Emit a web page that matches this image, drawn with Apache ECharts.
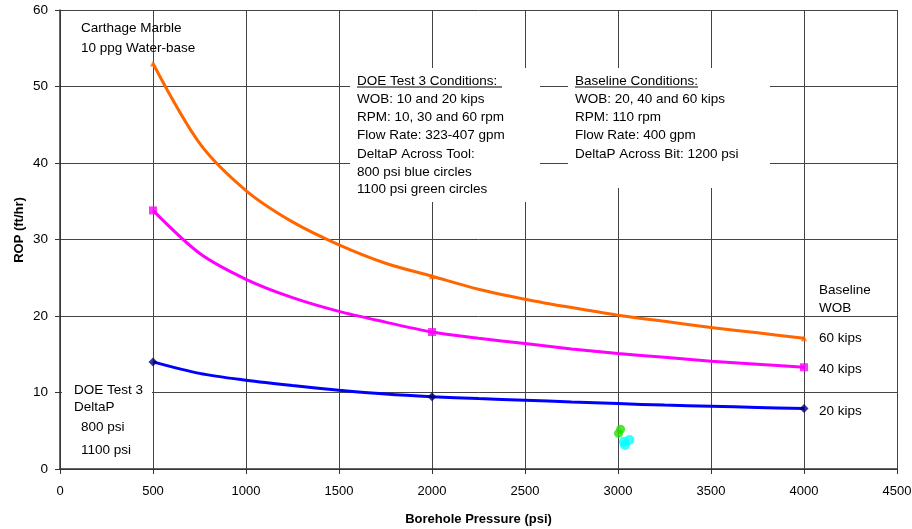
<!DOCTYPE html>
<html style="height: 100%">
<head>
    <meta charset="utf-8">
    <script src="https://cdn.jsdelivr.net/npm/echarts@6/dist/echarts.min.js"></script>
</head>
<body style="height: 100%; margin: 0; background: #fff">
<div id="container" style="width: 912px; height: 529px"></div>
<script>
    // borehole pressure (psi) where the curves are read
    var pressure = [500, 750, 1000, 1250, 1500, 1750, 2000, 2250, 2500, 2750, 3000, 3250, 3500, 3750, 4000];
    // ROP (ft/hr)
    var rop60 = [53.0, 42.6, 36.4, 32.3, 29.3, 26.9, 25.2, 23.5, 22.2, 21.1, 20.1, 19.3, 18.5, 17.8, 17.1];
    var rop40 = [33.8, 28.2, 24.8, 22.4, 20.6, 19.2, 17.9, 17.1, 16.4, 15.7, 15.1, 14.6, 14.1, 13.7, 13.3];
    var rop20 = [14.0, 12.5, 11.6, 10.9, 10.3, 9.8, 9.45, 9.2, 9.0, 8.75, 8.55, 8.35, 8.2, 8.05, 7.9];
    // pressures that carry a marker (the measured points)
    var measuredAt = [500, 2000, 4000];
    // DOE test 3 points
    var doe1100 = [[3014, 5.2], [3003, 4.65]];
    var doe800 = [[3032, 3.57], [3061, 3.79], [3038, 3.14]];

    var xTicks = [0, 4500, 500];
    var yTicks = [0, 60, 10];

    function curve(vals) {
        return pressure.map(function (p, i) { return [p, vals[i]]; });
    }
    function marks(vals) {
        return curve(vals).filter(function (d) { return measuredAt.indexOf(d[0]) >= 0; });
    }

    var font = 'Liberation Sans, Arial, sans-serif';
    function txt(x, y, s) {
        return {
            type: 'text', left: x, top: y - 8, z: 20,
            style: {text: s, font: '13.5px ' + font, fill: '#000'}
        };
    }
    function box(x, y, w, h) {
        return {type: 'rect', shape: {x: x, y: y, width: w, height: h}, z: 15,
            style: {fill: '#fff'}};
    }
    function uline(x1, x2, y) {
        return {type: 'line', shape: {x1: x1, y1: y, x2: x2, y2: y}, z: 21,
            style: {stroke: '#000', lineWidth: 1}};
    }

    var dom = document.getElementById("container");
    var myChart = echarts.init(dom);

    var option = {
        animation: false,
        grid: {left: 60, right: 15, top: 10, bottom: 60, containLabel: false, outerBoundsMode: 'none'},
        xAxis: {
            type: 'value',
            min: xTicks[0], max: xTicks[1], interval: xTicks[2],
            name: 'Borehole Pressure (psi)',
            nameLocation: 'middle',
            nameGap: 44,
            nameTextStyle: {fontFamily: font, fontSize: 13, fontWeight: 'bold', color: '#000'},
            axisLine: {lineStyle: {color: '#333', width: 1.5}},
            axisTick: {length: 5, lineStyle: {color: '#333'}},
            axisLabel: {fontFamily: font, fontSize: 13, color: '#000', margin: 16,
                formatter: function (v) { return String(v); }},
            splitLine: {lineStyle: {color: '#444', width: 1}}
        },
        yAxis: {
            type: 'value',
            min: yTicks[0], max: yTicks[1], interval: yTicks[2],
            axisLine: {show: true, lineStyle: {color: '#333', width: 1.5}},
            axisTick: {show: true, length: 5, lineStyle: {color: '#333'}},
            axisLabel: {fontFamily: font, fontSize: 13.5, color: '#000', margin: 12},
            splitLine: {lineStyle: {color: '#444', width: 1}}
        },
        series: [
            {type: 'line', data: curve(rop60), smooth: 0.3, showSymbol: false,
                lineStyle: {color: '#ff6600', width: 3}, z: 5},
            {type: 'line', data: curve(rop40), smooth: 0.3, showSymbol: false,
                lineStyle: {color: '#ff00ff', width: 3}, z: 5},
            {type: 'line', data: curve(rop20), smooth: 0.3, showSymbol: false,
                lineStyle: {color: '#0000ff', width: 3}, z: 5},
            {type: 'scatter', data: marks(rop60), symbol: 'triangle', symbolSize: 6,
                itemStyle: {color: '#ff6600'}, z: 6},
            {type: 'scatter', data: marks(rop40), symbol: 'rect', symbolSize: 8,
                itemStyle: {color: '#ff00ff'}, z: 6},
            {type: 'scatter', data: marks(rop20), symbol: 'diamond', symbolSize: 9,
                itemStyle: {color: '#000080'}, z: 6},
            {type: 'scatter', data: doe1100, symbol: 'circle', symbolSize: 9,
                itemStyle: {color: '#22e000'}, z: 6},
            {type: 'scatter', data: doe800, symbol: 'circle', symbolSize: 10,
                itemStyle: {color: '#00ffff'}, z: 6}
        ],
        graphic: [
            {type: 'text', x: 19, y: 230, rotation: Math.PI / 2, z: 20,
                style: {text: 'ROP (ft/hr)', font: 'bold 13px ' + font, fill: '#000',
                    align: 'center', verticalAlign: 'middle'}},
            txt(81, 29, 'Carthage Marble'),
            txt(81, 49, '10 ppg Water-base'),
            box(350, 68, 190, 134),
            txt(357, 82, 'DOE Test 3 Conditions:'),
            txt(357, 100, 'WOB: 10 and 20 kips'),
            txt(357, 118, 'RPM: 10, 30 and 60 rpm'),
            txt(357, 136, 'Flow Rate: 323-407 gpm'),
            txt(357, 155, 'DeltaP Across Tool:'),
            txt(357, 173, '800 psi blue circles'),
            txt(357, 190, '1100 psi green circles'),
            uline(357, 502, 87),
            box(568, 68, 202, 120),
            txt(575, 82, 'Baseline Conditions:'),
            txt(575, 100, 'WOB: 20, 40 and 60 kips'),
            txt(575, 118, 'RPM: 110 rpm'),
            txt(575, 136, 'Flow Rate: 400 gpm'),
            txt(575, 155, 'DeltaP Across Bit: 1200 psi'),
            uline(575, 698, 87),
            txt(819, 291, 'Baseline'),
            txt(819, 309, 'WOB'),
            txt(819, 339, '60 kips'),
            txt(819, 370, '40 kips'),
            txt(819, 412, '20 kips'),
            box(62, 378, 90, 40),
            txt(74, 391, 'DOE Test 3'),
            txt(74, 408, 'DeltaP'),
            txt(81, 428, '800 psi'),
            txt(81, 451, '1100 psi')
        ]
    };
    if (option && typeof option === "object") {
        myChart.setOption(option, true);
    }
</script>
</body>
</html>
